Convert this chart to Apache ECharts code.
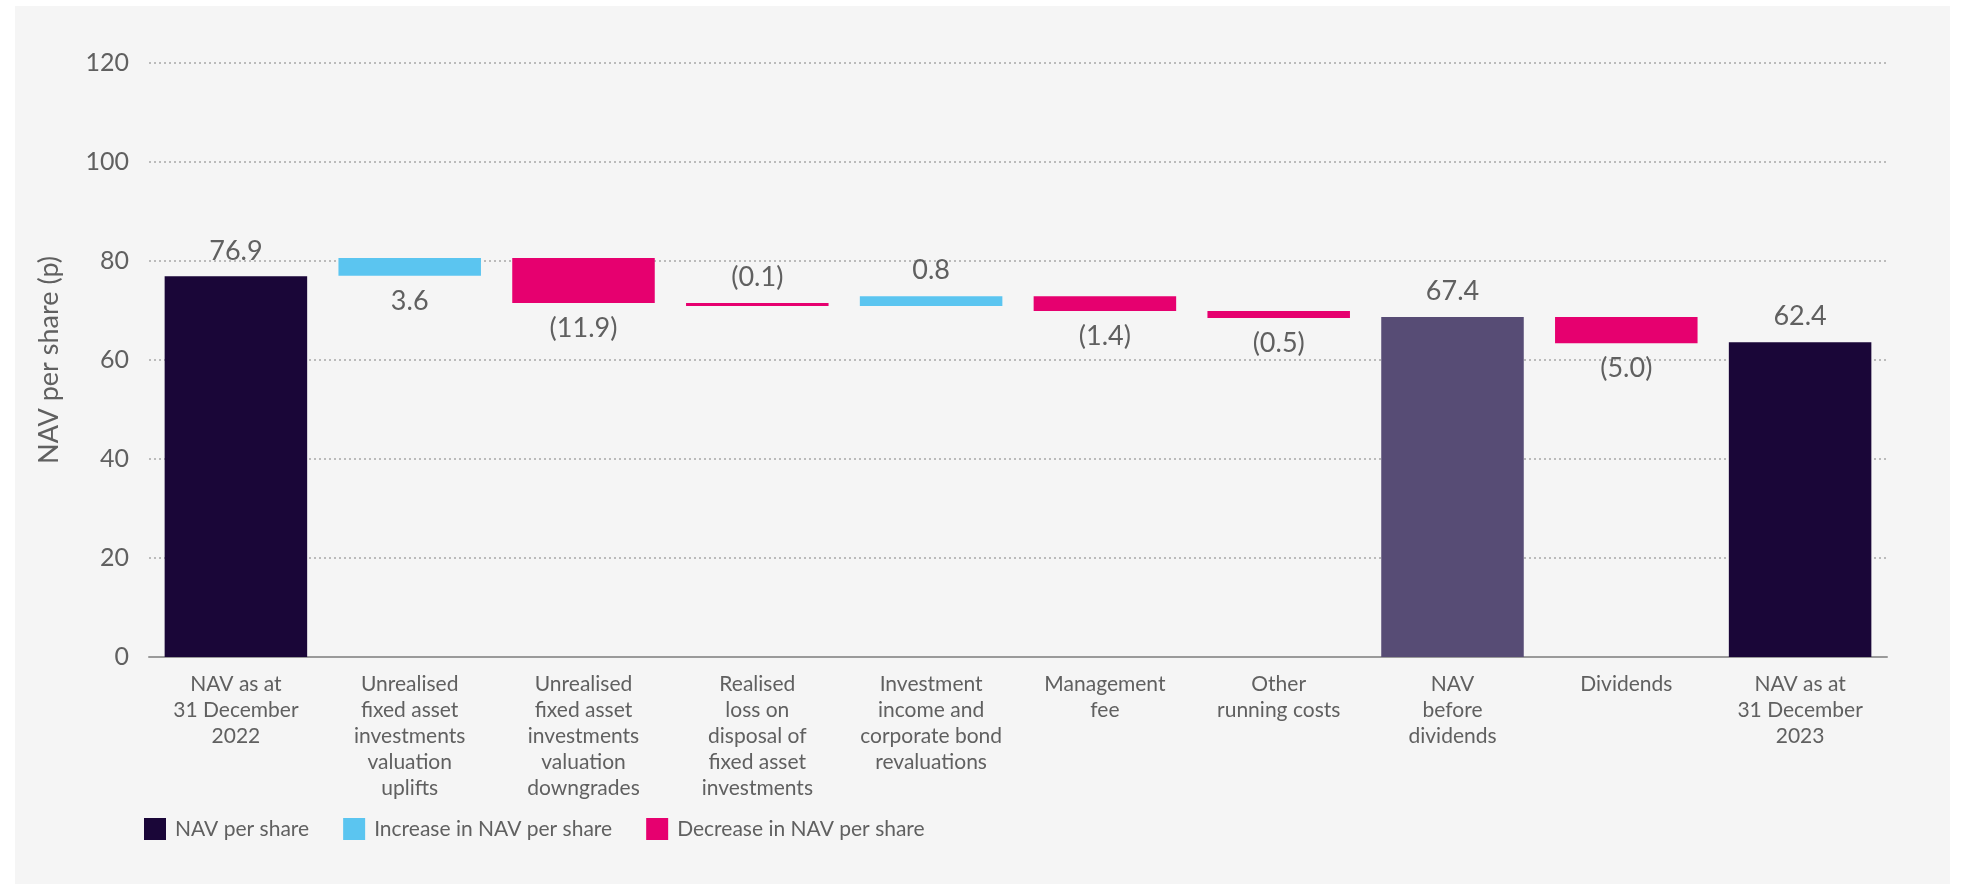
<!DOCTYPE html>
<html>
<head>
<meta charset="utf-8">
<script src="https://cdn.jsdelivr.net/npm/echarts@6/dist/echarts.min.js"></script>
<style>
  html, body { margin: 0; padding: 0; background: #ffffff; }
  #panel { position: absolute; left: 15px; top: 6px; width: 1935px; height: 878px; background: #f5f5f5; }
  #main { position: absolute; left: 0; top: 0; width: 1966px; height: 888px; }
</style>
</head>
<body>
<div id="panel"></div>
<div id="main"></div>
<script>
// ---- Data ----
const categories = [
  'NAV as at\n31 December\n2022',
  'Unrealised\nfixed asset\ninvestments\nvaluation\nuplifts',
  'Unrealised\nfixed asset\ninvestments\nvaluation\ndowngrades',
  'Realised\nloss on\ndisposal of\nfixed asset\ninvestments',
  'Investment\nincome and\ncorporate bond\nrevaluations',
  'Management\nfee',
  'Other\nrunning costs',
  'NAV\nbefore\ndividends',
  'Dividends',
  'NAV as at\n31 December\n2023'
];
const valueLabels = ['76.9', '3.6', '(11.9)', '(0.1)', '0.8', '(1.4)', '(0.5)', '67.4', '(5.0)', '62.4'];
// bar extents as drawn in the picture (p)
const barBottom = [0, 77.0, 71.5, 70.9, 70.9, 69.9, 68.5, 0, 63.4, 0];
const barTop    = [76.9, 80.6, 80.6, 71.5, 72.9, 72.9, 69.9, 68.7, 68.7, 63.6];
const kinds     = ['total', 'increase', 'decrease', 'decrease', 'increase', 'decrease', 'decrease', 'subtotal', 'decrease', 'total'];
const labelSide = ['top', 'bottom', 'bottom', 'top', 'top', 'bottom', 'bottom', 'top', 'bottom', 'top'];
const yTicks = { min: 0, max: 120, interval: 20 };
const seriesNames = ['NAV per share', 'Increase in NAV per share', 'Decrease in NAV per share'];

// ---- Style ----
const C_DARK = '#1a0638', C_SUB = '#574c75', C_UP = '#5bc5f0', C_DOWN = '#e6006f';
const TXT = '#606060';
const FONT = 'Lato';

function build(kindSet) {
  return categories.map((c, i) => {
    if (!kindSet.includes(kinds[i])) return '-';
    const item = {
      value: +(barTop[i] - barBottom[i]).toFixed(2),
      label: {
        show: true,
        position: labelSide[i],
        distance: 12,
        formatter: valueLabels[i],
        color: TXT, fontSize: 27, fontFamily: FONT
      }
    };
    if (kinds[i] === 'subtotal') item.itemStyle = { color: C_SUB };
    return item;
  });
}

const chart = echarts.init(document.getElementById('main'), null, { renderer: 'canvas' });
chart.setOption({
  backgroundColor: 'transparent',
  animation: false,
  textStyle: { fontFamily: FONT },
  grid: { left: 149, width: 1738, top: 63, height: 594 },
  legend: {
    data: seriesNames,
    left: 139, top: 813,
    itemWidth: 22, itemHeight: 22, itemGap: 34,
    icon: 'rect',
    textStyle: { color: TXT, fontSize: 21, fontFamily: FONT, padding: [0, 0, 0, 4] }
  },
  xAxis: {
    type: 'category',
    data: categories,
    axisLine: { lineStyle: { color: '#9a9a9a', width: 2 } },
    axisTick: { show: false },
    axisLabel: { interval: 0, color: TXT, fontSize: 21, lineHeight: 26, margin: 14, fontFamily: FONT }
  },
  yAxis: {
    type: 'value',
    min: yTicks.min, max: yTicks.max, interval: yTicks.interval,
    name: 'NAV per share (p)',
    nameLocation: 'middle', nameRotate: 90, nameGap: 86,
    nameTextStyle: { color: TXT, fontSize: 27, fontFamily: FONT },
    axisLine: { show: false },
    axisTick: { show: false },
    axisLabel: { color: TXT, fontSize: 25, margin: 20, fontFamily: FONT },
    splitLine: { lineStyle: { color: '#a8a8a8', type: [2, 3], width: 1.5 } }
  },
  series: [
    {
      name: 'base', type: 'bar', stack: 'w', silent: true,
      itemStyle: { color: 'transparent' },
      barCategoryGap: '18%',
      data: barBottom
    },
    {
      name: seriesNames[0], type: 'bar', stack: 'w',
      itemStyle: { color: C_DARK },
      data: build(['total', 'subtotal'])
    },
    {
      name: seriesNames[1], type: 'bar', stack: 'w',
      itemStyle: { color: C_UP },
      data: build(['increase'])
    },
    {
      name: seriesNames[2], type: 'bar', stack: 'w',
      itemStyle: { color: C_DOWN },
      data: build(['decrease'])
    }
  ]
});
</script>
</body>
</html>
